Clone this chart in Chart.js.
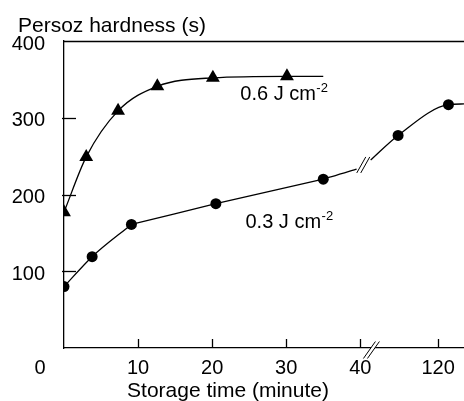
<!DOCTYPE html>
<html>
<head>
<meta charset="utf-8">
<script src="https://cdn.jsdelivr.net/npm/chart.js@4.4.1/dist/chart.umd.min.js"></script>
<style>
  html, body { margin: 0; padding: 0; background: #fff; }
  #wrap { width: 464px; height: 401px; }
</style>
</head>
<body>
<div id="wrap"><canvas id="c" width="464" height="401"></canvas></div>
<script>
// ---- data (storage time in minutes, Persoz hardness in s) ----
const xTickMinutes = [10, 20, 30, 40, 120];
const yTickValues = [100, 200, 300, 400];

const highDoseLabel = '0.6 J cm';
const highDoseTime = [0, 3, 7.3, 12.6, 20.1, 30.1];
const highDoseHardness = [177, 249, 309, 341, 352, 354];
const highDoseCurveEnd = [35, 354];            // fitted curve continues past last marker

const lowDoseLabel = '0.3 J cm';
const lowDoseTime = [0, 3.8, 9.1, 20.5, 35, 114.6, 121.4];
const lowDoseHardness = [80, 119, 161, 188, 220, 277, 317];
const lowDoseBeforeBreak = [39.5, 233];        // fitted curve end before the axis break
const lowDoseAfterBreak = [110.9, 245];        // fitted curve start after the axis break
const lowDoseCurveEnd = [123.5, 318];

// broken x axis: minutes beyond 40 are shifted left
const BREAK_AT = 40;
const BREAK_SHIFT = 69.5;
const axisPos = m => (m <= BREAK_AT ? m : m - BREAK_SHIFT);

const pts = (xs, ys) => xs.map((x, i) => ({ x: axisPos(x), y: ys[i] }));

const highMarkers = pts(highDoseTime, highDoseHardness);
const highCurve = highMarkers.concat(pts([highDoseCurveEnd[0]], [highDoseCurveEnd[1]]));

const lowMarkers = pts(lowDoseTime, lowDoseHardness);
// curved rise (first three points), then nearly straight run to the break
const lowCurveA1 = lowMarkers.slice(0, 3);
const lowCurveA2 = lowMarkers.slice(2, 5).concat(pts([lowDoseBeforeBreak[0]], [lowDoseBeforeBreak[1]]));
const lowCurveB = pts([lowDoseAfterBreak[0]], [lowDoseAfterBreak[1]])
  .concat(lowMarkers.slice(5))
  .concat(pts([lowDoseCurveEnd[0]], [lowDoseCurveEnd[1]]));

const FONT = '"Liberation Sans", Arial, Helvetica, sans-serif';
const INK = '#000';

const lineDs = (data, mode) => ({
  type: 'line', data, borderColor: INK, borderWidth: 1.3, pointRadius: 0,
  fill: false, order: 2,
  cubicInterpolationMode: mode === 'straight' ? 'default' : 'monotone',
  tension: mode === 'straight' ? 0.15 : 0.4
});
const markerDs = (data, style, r) => ({
  type: 'scatter', data, showLine: false, pointStyle: style, pointRadius: r,
  backgroundColor: INK, borderColor: INK, borderWidth: 0, order: 1
});

const decor = {
  id: 'decor',
  afterDraw(chart) {
    const { ctx, chartArea: a, scales: { x, y } } = chart;
    ctx.save();
    ctx.strokeStyle = INK;
    ctx.fillStyle = INK;
    ctx.lineWidth = 1.3;
    // top frame line
    ctx.beginPath();
    ctx.moveTo(a.left, a.top + 0.5);
    ctx.lineTo(a.right, a.top + 0.5);
    ctx.stroke();
    // inward y ticks
    yTickValues.forEach(v => {
      if (v >= 400) return;
      const py = Math.round(y.getPixelForValue(v)) + 0.5;
      ctx.beginPath();
      ctx.moveTo(a.left - 2, py);
      ctx.lineTo(a.left + 12, py);
      ctx.stroke();
    });
    // inward x ticks
    xTickMinutes.forEach(m => {
      const px = Math.round(x.getPixelForValue(axisPos(m))) + 0.5;
      ctx.beginPath();
      ctx.moveTo(px, a.bottom);
      ctx.lineTo(px, a.bottom - 9);
      ctx.stroke();
    });
    // break marks
    const drawBreak = (cx, cy, h, w, gap) => {
      ctx.save();
      ctx.fillStyle = '#fff';
      ctx.beginPath();
      ctx.moveTo(cx - w / 2 - gap / 2, cy + h / 2);
      ctx.lineTo(cx + w / 2 - gap / 2, cy - h / 2);
      ctx.lineTo(cx + w / 2 + gap / 2, cy - h / 2);
      ctx.lineTo(cx - w / 2 + gap / 2, cy + h / 2);
      ctx.closePath();
      ctx.fill();
      ctx.restore();
      ctx.lineWidth = 1;
      [-gap / 2, gap / 2].forEach(o => {
        ctx.beginPath();
        ctx.moveTo(cx - w / 2 + o, cy + h / 2);
        ctx.lineTo(cx + w / 2 + o, cy - h / 2);
        ctx.stroke();
      });
    };
    drawBreak(x.getPixelForValue(41.5), a.bottom + 2, 17, 12, 4);
    drawBreak(x.getPixelForValue(40.4), y.getPixelForValue(238.5), 16, 9, 4);

    // texts
    ctx.textBaseline = 'alphabetic';
    ctx.textAlign = 'left';
    ctx.font = '21px ' + FONT;
    ctx.fillText('Persoz hardness (s)', 18, 31.5);
    ctx.textAlign = 'center';
    ctx.fillText('Storage time (minute)', 228, 396.5);
    ctx.font = '20px ' + FONT;
    ctx.textBaseline = 'middle';
    ctx.fillText('0', 40, 368);

    const annot = (label, xv, yv) => {
      const px = x.getPixelForValue(xv), py = y.getPixelForValue(yv);
      ctx.textAlign = 'left';
      ctx.textBaseline = 'alphabetic';
      ctx.font = '20px ' + FONT;
      ctx.fillText(label, px, py);
      const w = ctx.measureText(label).width;
      ctx.font = '13px ' + FONT;
      ctx.fillText('-2', px + w + 0.5, py - 8);
    };
    annot(highDoseLabel, 23.8, 323);
    annot(lowDoseLabel, 24.5, 156);
    ctx.restore();
  }
};

new Chart(document.getElementById('c'), {
  data: {
    datasets: [
      lineDs(highCurve),
      lineDs(lowCurveA1),
      lineDs(lowCurveA2, 'straight'),
      lineDs(lowCurveB),
      markerDs(highMarkers, 'triangle', 8),
      markerDs(lowMarkers, 'circle', 5.5)
    ]
  },
  options: {
    responsive: false,
    animation: false,
    devicePixelRatio: 1,
    layout: { autoPadding: false, padding: { top: 41, right: 0, bottom: 0, left: 0 } },
    plugins: { legend: { display: false }, tooltip: { enabled: false }, title: { display: false } },
    scales: {
      x: {
        type: 'linear',
        min: 0,
        max: 54,
        grid: { display: false, drawTicks: false },
        border: { display: true, color: INK, width: 1.3 },
        afterBuildTicks: s => { s.ticks = xTickMinutes.map(m => ({ value: axisPos(m) })); },
        afterFit: s => { s.height = 53; s.paddingLeft = 0; s.paddingRight = 0; },
        ticks: {
          color: INK,
          padding: 8,
          maxRotation: 0,
          autoSkip: false,
          font: { family: FONT, size: 20 },
          callback: (v) => {
            const i = xTickMinutes.findIndex(m => Math.abs(axisPos(m) - v) < 1e-6);
            return i >= 0 ? String(xTickMinutes[i]) : '';
          }
        }
      },
      y: {
        type: 'linear',
        min: 0,
        max: 400,
        grid: { display: false, drawTicks: false },
        border: { display: true, color: INK, width: 1.3 },
        afterBuildTicks: s => { s.ticks = yTickValues.map(v => ({ value: v })); },
        afterFit: s => { s.width = 64; s.paddingTop = 0; s.paddingBottom = 0; },
        ticks: {
          color: INK,
          padding: 19,
          labelOffset: 3,
          font: { family: FONT, size: 20 },
          callback: v => String(v)
        }
      }
    }
  },
  plugins: [decor]
});
</script>
</body>
</html>
